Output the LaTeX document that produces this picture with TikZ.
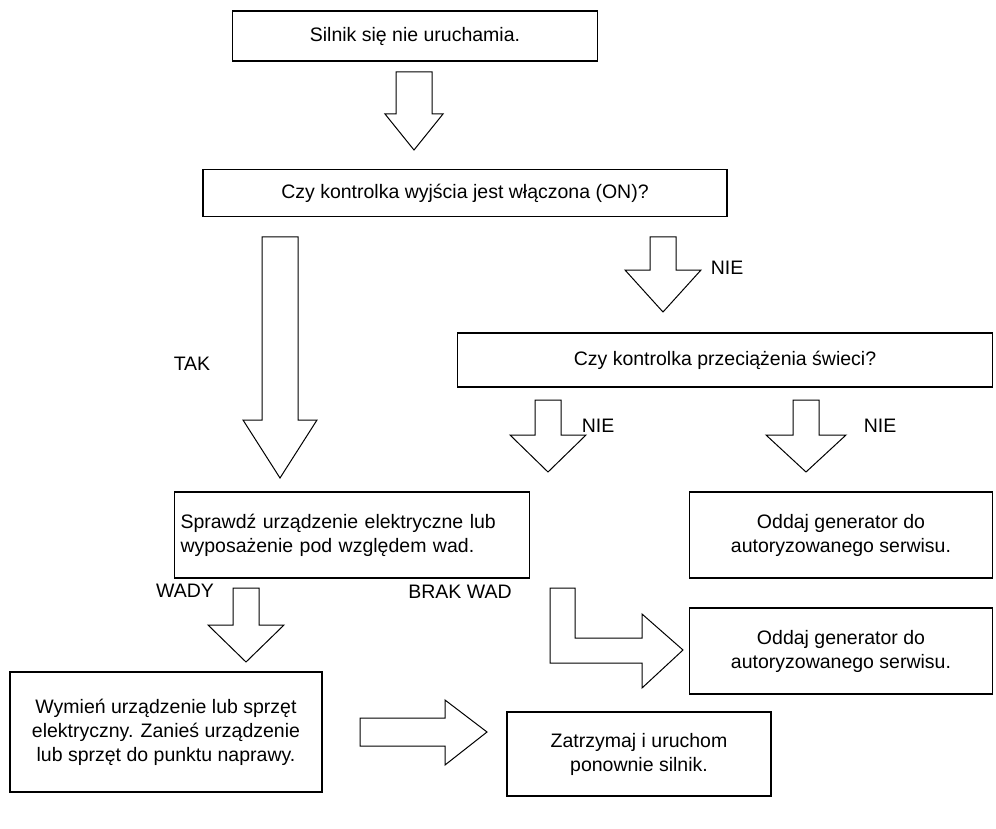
\documentclass[tikz,border=0pt]{standalone}
\usepackage{fontspec}
\setmainfont{Liberation Sans}
\usetikzlibrary{positioning}

% hollow block arrow pointing down: x, top, bottom, half shaft, half head, head length
\newcommand\arrowdown[6]{%
  \draw[arrowline] (#1-#4,#2) -- (#1-#4,#3-#6) -- (#1-#5,#3-#6) -- (#1,#3)
    -- (#1+#5,#3-#6) -- (#1+#4,#3-#6) -- (#1+#4,#2) -- cycle;}

\begin{document}
\begin{tikzpicture}[x=1pt,y=-1pt,
  box/.style={draw, line width=1.1pt, minimum height=#1, inner sep=4pt,
    font=\fontsize{19.5}{24}\selectfont, align=center},
  box/.default=50pt,
  label/.style={font=\fontsize{19.5}{24}\selectfont},
  arrowline/.style={draw, line width=1pt, line join=miter}]
  \useasboundingbox (0,0) rectangle (996,829);

  \node[box, minimum width=365pt] (start) at (415,36) {Silnik się nie uruchamia.};
  \node[box=47pt, minimum width=524pt] (out) at (465,193) {Czy kontrolka wyjścia jest włączona (ON)?};
  \node[box=54pt, minimum width=535pt] (over) at (725,360) {Czy kontrolka przeciążenia świeci?};
  \node[box=86pt, minimum width=355pt, align=left, text width=343pt] (check) at (352,535)
    {Sprawdź urządzenie elektryczne lub\\wyposażenie pod względem wad.};
  \node[box=86pt, minimum width=303pt] (serv1) at (841,535)
    {Oddaj generator do\\autoryzowanego serwisu.};
  \node[box=86pt, minimum width=303pt] (serv2) at (841,651)
    {Oddaj generator do\\autoryzowanego serwisu.};
  \node[box=120pt, minimum width=312pt] (swap) at (166,732)
    {Wymień urządzenie lub sprzęt\\elektryczny. Zanieś urządzenie\\lub sprzęt do punktu naprawy.};
  \node[box=84pt, minimum width=264pt] (restart) at (639,754)
    {Zatrzymaj i uruchom\\ponownie silnik.};

  % arrows
  \arrowdown{414}{72}{150}{18}{29}{36}
  \arrowdown{280}{237}{478}{18}{37}{58}
  \arrowdown{663}{237}{312}{13}{38}{42}
  \arrowdown{548}{400}{472}{13}{38}{37}
  \arrowdown{806}{400}{472}{13}{40}{37}
  \arrowdown{246}{588}{662}{13}{38}{37}
  \draw[arrowline] (550,588) -- (550,663) -- (642,663) -- (642,688) -- (683,650)
    -- (642,614) -- (642,638) -- (575,638) -- (575,588) -- cycle;
  \draw[arrowline] (360,718) -- (445,718) -- (445,700) -- (487,732) -- (445,765)
    -- (445,746) -- (360,746) -- cycle;

  \node[label] (tak) at (192,364) {TAK};
  \node[label] (nie1) at (727,268) {NIE};
  \node[label] (nie2) at (598,426) {NIE};
  \node[label] (nie3) at (880,426) {NIE};
  \node[label] (wady) at (185,591) {WADY};
  \node[label] (brak) at (460,592) {BRAK WAD};
\end{tikzpicture}
\end{document}
